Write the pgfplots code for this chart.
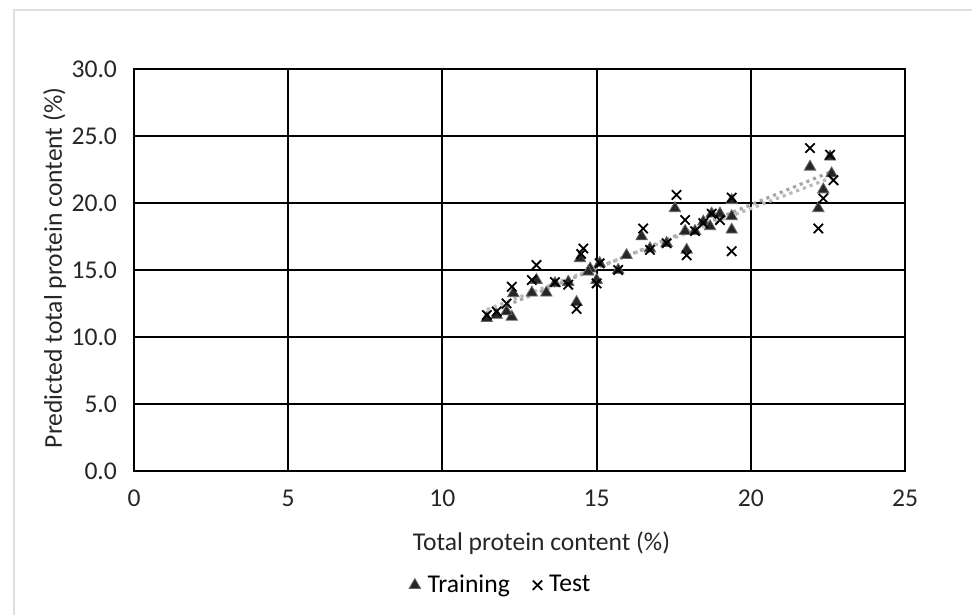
\documentclass[border=0pt]{standalone}
\usepackage{pgfplots}
\pgfplotsset{compat=1.18}
\usepackage{fontspec}
\setmainfont{Carlito}
\newcommand{\cf}{\fontsize{12.8}{15}\selectfont}
\begin{document}
\begin{tikzpicture}
\useasboundingbox (-67pt,-72pt) rectangle (419pt,235.5pt);
\draw[gray!25, line width=0.8pt] (-60pt,-72pt) -- (-60pt,230.5pt) -- (419pt,230.5pt);
\begin{axis}[
  at={(0,0)}, anchor=south west,
  scale only axis, width=385.5pt, height=201pt,
  xmin=0, xmax=25, ymin=0, ymax=30,
  xtick={0,5,...,25}, ytick={0,5,...,30},
  grid=major, major grid style={black, line width=1pt},
  axis line style={black, line width=1pt},
  major tick length=0pt,
  /pgf/number format/assume math mode=true,
  yticklabel style={/pgf/number format/.cd, fixed, precision=1, zerofill, /tikz/.cd, xshift=-5pt},
  xticklabel style={/pgf/number format/.cd, fixed, precision=0, /tikz/.cd, yshift=-6pt},
  tick label style={font=\cf, text=black!85},
  label style={font=\cf, text=black!85},
  xlabel={Total protein content (\%)},
  ylabel={Predicted total protein content (\%)},
  xlabel style={at={(axis description cs:0.5,0)}, yshift=-27pt, xshift=11pt, anchor=north},
  ylabel style={at={(axis description cs:0,0.5)}, yshift=30.5pt, xshift=1pt},
  legend style={at={(0.477,-0.284)}, anchor=center, draw=none, font=\cf,
    legend columns=2, /tikz/every even column/.append style={column sep=9.5pt},
    /tikz/every odd column/.append style={column sep=1.5pt}},
  legend cell align=left,
  clip=false,
]
\addplot[only marks, mark=triangle*, mark size=3.3pt, mark options={fill=black!85, draw=black!60}] coordinates {
(11.44,11.4) (11.76,11.64) (12.25,11.5) (12.08,11.9) (12.3,13.26) (12.9,13.3)
(13.05,14.25) (13.37,13.3) (13.65,14.0) (14.08,14.1) (14.35,12.6) (14.46,15.87)
(14.79,15.1) (14.73,14.87) (15.0,14.25) (15.1,15.5) (15.7,15.0) (15.97,16.1)
(16.46,17.5) (16.73,16.6) (17.27,17.0) (17.54,19.6) (17.87,17.9) (17.92,16.5)
(18.19,17.9) (18.46,18.6) (18.68,18.25) (18.73,19.2) (19.0,19.2) (19.38,20.2)
(19.38,18.0) (19.38,19.0) (21.92,22.7) (22.57,23.45) (22.62,22.2) (22.35,21.0)
(22.19,19.6)
};
\addlegendentry{Training}
\addplot[only marks, mark=x, mark size=3.3pt, mark options={draw=black, line width=0.9pt}] coordinates {
(11.44,11.64) (11.76,11.9) (12.08,12.5) (12.25,13.75) (13.05,15.37) (12.9,14.25)
(13.65,14.1) (14.08,13.9) (14.35,12.1) (14.57,16.6) (14.5,16.2) (15.0,14.0)
(15.1,15.5) (15.7,15.0) (16.51,18.1) (16.73,16.5) (17.27,17.0) (17.59,20.6)
(17.87,18.73) (17.92,16.1) (18.19,17.9) (18.46,18.5) (18.73,19.2) (19.0,18.73)
(19.38,20.4) (19.38,16.4) (21.92,24.1) (22.57,23.6) (22.68,21.7) (22.35,20.35)
(22.19,18.1)
};
\addlegendentry{Test}
\addplot[forget plot, gray!70, dotted, line width=1.6pt] coordinates {(11.44,11.75) (22.62,22.35)};
\addplot[forget plot, gray!55, dotted, line width=1.6pt] coordinates {(11.44,12.05) (22.68,21.95)};
\end{axis}
\end{tikzpicture}
\end{document}
